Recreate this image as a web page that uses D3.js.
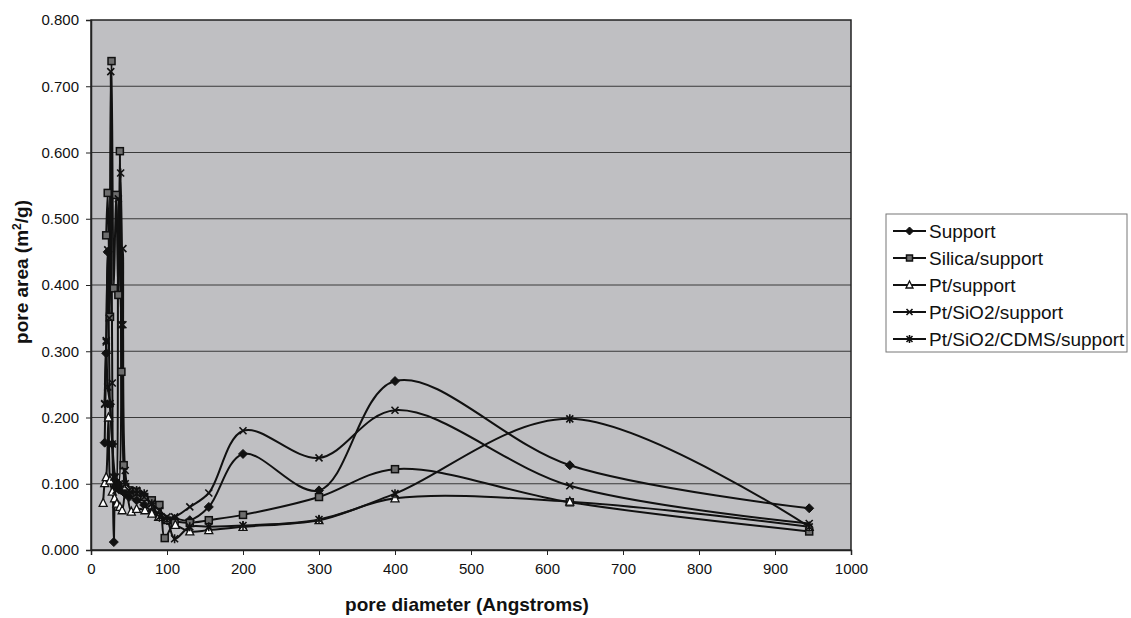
<!DOCTYPE html>
<html>
<head>
<meta charset="utf-8">
<script src="https://cdn.jsdelivr.net/npm/d3@7"></script>
<style>
  html, body { margin: 0; padding: 0; background: #fff; }
  svg { display: block; }
  text { font-family: "Liberation Sans", Arial, sans-serif; fill: #111; }
</style>
</head>
<body>
<svg id="chart" width="1131" height="618"></svg>
<script>
// Pore area distributions (m²/g) against pore diameter (Å)
const seriesNames = ["Support", "Silica/support", "Pt/support", "Pt/SiO2/support", "Pt/SiO2/CDMS/support"];
const markerKinds = ["diamond", "square", "triangle", "cross", "star"];

const supportX = [18, 20, 22, 25, 28, 30, 33, 36, 40, 45, 50, 60, 70, 80, 90, 100, 110, 130, 155, 200, 300, 400, 630, 945];
const supportY = [0.162, 0.297, 0.450, 0.220, 0.160, 0.012, 0.095, 0.100, 0.090, 0.085, 0.080, 0.075, 0.068, 0.058, 0.050, 0.045, 0.047, 0.045, 0.065, 0.145, 0.090, 0.255, 0.128, 0.063];

const silicaX = [20, 22, 25, 27, 30, 33, 36, 38, 40, 43, 45, 50, 60, 70, 80, 90, 97, 110, 130, 155, 200, 300, 400, 630, 945];
const silicaY = [0.475, 0.539, 0.352, 0.738, 0.395, 0.536, 0.385, 0.602, 0.269, 0.128, 0.095, 0.090, 0.088, 0.080, 0.075, 0.068, 0.018, 0.041, 0.041, 0.045, 0.053, 0.080, 0.122, 0.072, 0.028];

const ptX = [16, 18, 20, 23, 25, 28, 31, 34, 38, 41, 46, 53, 60, 71, 80, 89, 100, 111, 130, 155, 200, 300, 400, 630, 945];
const ptY = [0.071, 0.101, 0.110, 0.200, 0.105, 0.088, 0.078, 0.070, 0.065, 0.060, 0.096, 0.058, 0.062, 0.060, 0.055, 0.050, 0.045, 0.038, 0.028, 0.030, 0.035, 0.045, 0.078, 0.073, 0.035];

const ptSiO2X = [18, 20, 22, 24, 26, 28, 30, 33, 36, 40, 42, 45, 50, 60, 70, 80, 90, 100, 110, 130, 155, 200, 300, 400, 630, 945];
const ptSiO2Y = [0.220, 0.316, 0.453, 0.350, 0.722, 0.252, 0.110, 0.090, 0.530, 0.340, 0.455, 0.120, 0.090, 0.085, 0.080, 0.070, 0.060, 0.050, 0.050, 0.065, 0.086, 0.180, 0.139, 0.211, 0.097, 0.040];

const cdmsX = [18, 20, 22, 25, 28, 32, 36, 39, 42, 45, 50, 60, 70, 80, 90, 100, 110, 130, 155, 200, 300, 400, 630, 945];
const cdmsY = [0.221, 0.314, 0.246, 0.221, 0.160, 0.110, 0.098, 0.569, 0.340, 0.100, 0.085, 0.090, 0.085, 0.070, 0.050, 0.045, 0.017, 0.035, 0.035, 0.037, 0.046, 0.085, 0.198, 0.035];

const xTicks = [0, 100, 200, 300, 400, 500, 600, 700, 800, 900, 1000];
const yTicks = [0, 0.1, 0.2, 0.3, 0.4, 0.5, 0.6, 0.7, 0.8];

const seriesX = [supportX, silicaX, ptX, ptSiO2X, cdmsX];
const seriesY = [supportY, silicaY, ptY, ptSiO2Y, cdmsY];
const series = seriesNames.map((name, i) => ({
  name, kind: markerKinds[i],
  points: seriesX[i].map((x, j) => ({ x, y: seriesY[i][j] }))
}));

const svg = d3.select("#chart");
const plot = { left: 91, right: 851, top: 20, bottom: 550 };

const x = d3.scaleLinear().domain([0, 1000]).range([plot.left, plot.right]);
const y = d3.scaleLinear().domain([0, 0.8]).range([plot.bottom, plot.top]);

// plot background
svg.append("rect")
  .attr("x", plot.left).attr("y", plot.top)
  .attr("width", plot.right - plot.left).attr("height", plot.bottom - plot.top)
  .attr("fill", "#bfbfc2");

// horizontal gridlines
svg.append("g").selectAll("line").data(yTicks.slice(1, -1)).join("line")
  .attr("x1", plot.left).attr("x2", plot.right)
  .attr("y1", d => y(d)).attr("y2", d => y(d))
  .attr("stroke", "#3a3a3a").attr("stroke-width", 1);

// plot frame
svg.append("rect")
  .attr("x", plot.left).attr("y", plot.top)
  .attr("width", plot.right - plot.left).attr("height", plot.bottom - plot.top)
  .attr("fill", "none").attr("stroke", "#222").attr("stroke-width", 1.5);

// axes
const xAxis = svg.append("g")
  .attr("transform", `translate(0,${plot.bottom})`)
  .call(d3.axisBottom(x).tickValues(xTicks).tickFormat(d3.format("d")).tickSize(5).tickPadding(8));
const yAxis = svg.append("g")
  .attr("transform", `translate(${plot.left},0)`)
  .call(d3.axisLeft(y).tickValues(yTicks).tickFormat(d3.format(".3f")).tickSize(5).tickPadding(7));
[xAxis, yAxis].forEach(g => {
  g.select(".domain").attr("stroke", "#222").attr("stroke-width", 1.5);
  g.selectAll(".tick line").attr("stroke", "#222");
  g.selectAll(".tick text").attr("font-size", 15).attr("fill", "#222")
    .style("font-family", "'Liberation Sans', Arial, sans-serif");
});

// axis titles
svg.append("text")
  .attr("x", 467).attr("y", 611)
  .attr("text-anchor", "middle").attr("font-size", 19).attr("font-weight", "bold")
  .text("pore diameter (Angstroms)");
const yTitle = svg.append("text")
  .attr("transform", `translate(28,272) rotate(-90)`)
  .attr("text-anchor", "middle").attr("font-size", 19).attr("font-weight", "bold");
yTitle.append("tspan").text("pore area (m");
yTitle.append("tspan").attr("dy", -7).attr("font-size", 12).text("2");
yTitle.append("tspan").attr("dy", 7).text("/g)");

// smoothed series lines
const line = d3.line().x(d => x(d.x)).y(d => y(d.y)).curve(d3.curveCatmullRom.alpha(0.5));
svg.append("clipPath").attr("id", "plotclip").append("rect")
  .attr("x", plot.left).attr("y", plot.top)
  .attr("width", plot.right - plot.left).attr("height", plot.bottom - plot.top);
const lines = svg.append("g").attr("clip-path", "url(#plotclip)");
series.forEach(s => {
  lines.append("path").attr("d", line(s.points))
    .attr("fill", "none").attr("stroke", "#111").attr("stroke-width", 2);
});

// marker drawing
function drawMarker(g, kind, cx, cy, s) {
  const h = s / 2;
  if (kind === "diamond") {
    g.append("path").attr("d", `M${cx},${cy - h - 1}L${cx + h + 1},${cy}L${cx},${cy + h + 1}L${cx - h - 1},${cy}Z`)
      .attr("fill", "#111").attr("stroke", "#111");
  } else if (kind === "square") {
    g.append("rect").attr("x", cx - h).attr("y", cy - h).attr("width", s).attr("height", s)
      .attr("fill", "#6d6d6d").attr("stroke", "#111").attr("stroke-width", 1.5);
  } else if (kind === "triangle") {
    g.append("path").attr("d", `M${cx},${cy - h - 1}L${cx + h + 0.5},${cy + h}L${cx - h - 0.5},${cy + h}Z`)
      .attr("fill", "#fff").attr("stroke", "#111").attr("stroke-width", 1.3);
  } else if (kind === "cross") {
    g.append("path").attr("d", `M${cx - h},${cy - h}L${cx + h},${cy + h}M${cx + h},${cy - h}L${cx - h},${cy + h}`)
      .attr("stroke", "#111").attr("stroke-width", 1.6);
  } else if (kind === "star") {
    g.append("path").attr("d", `M${cx - h},${cy - h}L${cx + h},${cy + h}M${cx + h},${cy - h}L${cx - h},${cy + h}M${cx},${cy - h - 1}L${cx},${cy + h + 1}`)
      .attr("stroke", "#111").attr("stroke-width", 1.6);
  }
}

const markers = svg.append("g");
series.forEach(s => {
  s.points.forEach(p => drawMarker(markers, s.kind, x(p.x), y(p.y), 7));
});

// legend
const legend = svg.append("g");
const lg = { left: 886, top: 214, width: 241, height: 138, row: 27 };
legend.append("rect")
  .attr("x", lg.left).attr("y", lg.top).attr("width", lg.width).attr("height", lg.height)
  .attr("fill", "#fff").attr("stroke", "#777").attr("stroke-width", 1);
series.forEach((s, i) => {
  const cy = lg.top + 17 + i * lg.row;
  legend.append("line").attr("x1", 893).attr("x2", 926).attr("y1", cy).attr("y2", cy)
    .attr("stroke", "#111").attr("stroke-width", 2);
  drawMarker(legend, s.kind, 909.5, cy, 6);
  legend.append("text").attr("x", 929).attr("y", cy).attr("dy", "0.35em")
    .attr("font-size", 19).text(s.name);
});
</script>
</body>
</html>
